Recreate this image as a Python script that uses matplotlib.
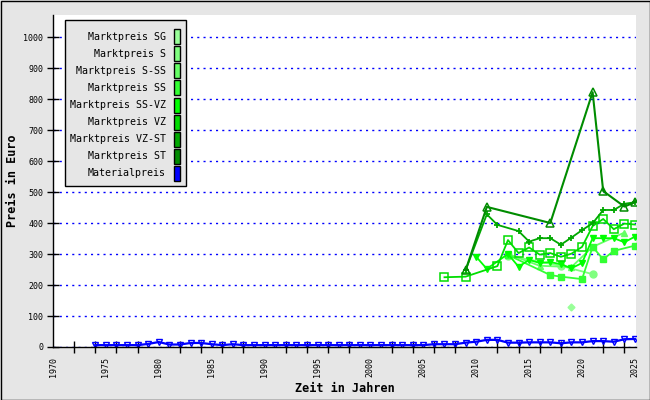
import matplotlib.pyplot as plt
from matplotlib.patches import Rectangle

# Market price series (year, Euro)
years_sg = [2019]
price_sg = [128]

years_s = [2013, 2018, 2021]
price_s = [295, 262, 235]

years_s_ss = [2013, 2016, 2019, 2021, 2024]
price_s_ss = [300, 262, 258, 323, 369]

years_ss = [2013, 2017, 2018, 2020, 2021, 2022, 2023, 2025]
price_ss = [297, 232, 227, 219, 323, 283, 310, 327]

years_ss_vz = [2010, 2011, 2013, 2014, 2015, 2016, 2017, 2018, 2019, 2020, 2021, 2022, 2023, 2024, 2025]
price_ss_vz = [291, 252, 300, 259, 281, 271, 274, 267, 254, 271, 351, 351, 351, 338, 356]

years_vz = [2007, 2009, 2012, 2013, 2014, 2015, 2016, 2017, 2018, 2019, 2020, 2021, 2022, 2023, 2024, 2025]
price_vz = [225, 227, 261, 345, 303, 321, 298, 303, 291, 301, 323, 390, 413, 380, 398, 395]

years_vz_st = [2009, 2011, 2012, 2014, 2015, 2016, 2017, 2018, 2019, 2020, 2021, 2022, 2023, 2024, 2025]
price_vz_st = [248, 428, 394, 374, 340, 351, 351, 330, 353, 377, 399, 442, 442, 462, 467]

years_st = [2009, 2011, 2017, 2021, 2022, 2024, 2025]
price_st = [248, 452, 400, 822, 503, 453, 467]

# Material price, yearly 1974-2025
years_mat = list(range(1974, 2026))
price_mat = [6, 6, 6, 6, 6, 10, 16, 8, 8, 13, 13, 9, 6, 9,
             6, 6, 6, 6, 6, 6, 6, 6, 6, 6, 6, 6, 6, 6, 6, 6, 6, 6,
             9, 9, 9, 14, 17, 23, 23, 14, 14, 15, 15, 15, 12, 15, 15, 19, 19, 17, 25, 26]

legend_labels = ["Marktpreis SG", "Marktpreis S", "Marktpreis S-SS", "Marktpreis SS",
                 "Marktpreis SS-VZ", "Marktpreis VZ", "Marktpreis VZ-ST", "Marktpreis ST",
                 "Materialpreis"]
colors = ["#99ff99", "#80ff80", "#66ff66", "#33ff33", "#00ff00", "#00dd00", "#00a800", "#008c00",
          "#0000ff"]

mono = "DejaVu Sans Mono"

fig = plt.figure(figsize=(6.5, 4), dpi=100, facecolor="#e6e6e6")
ax = fig.add_axes([53 / 650, 1 - 347 / 400, 583 / 650, 332 / 400])
ax.set_facecolor("white")

ax.plot(years_sg, price_sg, color=colors[0], lw=1.3, marker="D", ms=3.5, mec=colors[0], mfc=colors[0])
ax.plot(years_s, price_s, color=colors[1], lw=1.3, marker="o", ms=5, mec=colors[1], mfc=colors[1])
ax.plot(years_s_ss, price_s_ss, color=colors[2], lw=1.3, marker="^", ms=5, mec=colors[2], mfc=colors[2])
ax.plot(years_ss, price_ss, color=colors[3], lw=1.3, marker="s", ms=4.5, mec=colors[3], mfc=colors[3])
ax.plot(years_ss_vz, price_ss_vz, color=colors[4], lw=1.3, marker="v", ms=5, mec=colors[4], mfc=colors[4])
ax.plot(years_vz, price_vz, color=colors[5], lw=1.3, marker="s", ms=5.5, mec=colors[5], mfc="none", mew=1.1)
ax.plot(years_vz_st, price_vz_st, color=colors[6], lw=1.3, marker="+", ms=5, mec=colors[6], mew=1.3)
ax.plot(years_st, price_st, color=colors[7], lw=1.5, marker="^", ms=5.5, mec=colors[7], mfc="none", mew=1.1)
ax.plot(years_mat, price_mat, color=colors[8], lw=1.6, marker="v", ms=4.5, mec=colors[8], mfc="none", mew=1)

ax.set_xlim(1970, 2025.1)
ax.set_ylim(0, 1071)

for s in ["top", "right"]:
    ax.spines[s].set_visible(False)
ax.spines["left"].set_linewidth(1)
ax.spines["bottom"].set_linewidth(1)

ax.set_yticks(range(0, 1001, 100))
ax.tick_params(axis="y", direction="inout", length=8, width=1, labelsize=6, pad=3)
for lbl in ax.get_yticklabels():
    lbl.set_family(mono)
ax.yaxis.grid(True, color="#0000ff", linestyle=(0, (1.5, 3)), linewidth=1)

ax.set_xticks(range(1970, 2026, 5), [str(y) for y in range(1970, 2026, 5)])
ax.set_xticks(range(1970, 2026, 2), minor=True)
ax.tick_params(axis="x", which="major", length=0, labelsize=6, pad=7, labelrotation=90)
ax.tick_params(axis="x", which="minor", direction="inout", length=9, width=1)
for lbl in ax.get_xticklabels():
    lbl.set_family(mono)

ax.set_xlabel("Zeit in Jahren", fontfamily=mono, fontweight="bold", fontsize=8.5, labelpad=4)
ax.set_ylabel("Preis in Euro", fontfamily=mono, fontweight="bold", fontsize=8.5, labelpad=3)

# Overlay in pixel coordinates for the legend box and the frame
ov = fig.add_axes([0, 0, 1, 1])
ov.set_xlim(0, 650)
ov.set_ylim(400, 0)
ov.axis("off")
ov.patch.set_alpha(0)
ov.add_patch(Rectangle((0.5, 0.5), 649, 399, fill=False, ec="black", lw=1))
ov.add_patch(Rectangle((65, 20), 121, 166, fc="#e6e6e6", ec="black", lw=1))
for i, (lab, col) in enumerate(zip(legend_labels, colors)):
    yc = 36.7 + i * 17.08
    ov.text(166, yc, lab, ha="right", va="center", fontsize=7.2, family=mono)
    ov.add_patch(Rectangle((173.5, yc - 7.5), 6, 15, fc=col, ec="black", lw=1))

fig.savefig("out.png", dpi=100, facecolor=fig.get_facecolor())
